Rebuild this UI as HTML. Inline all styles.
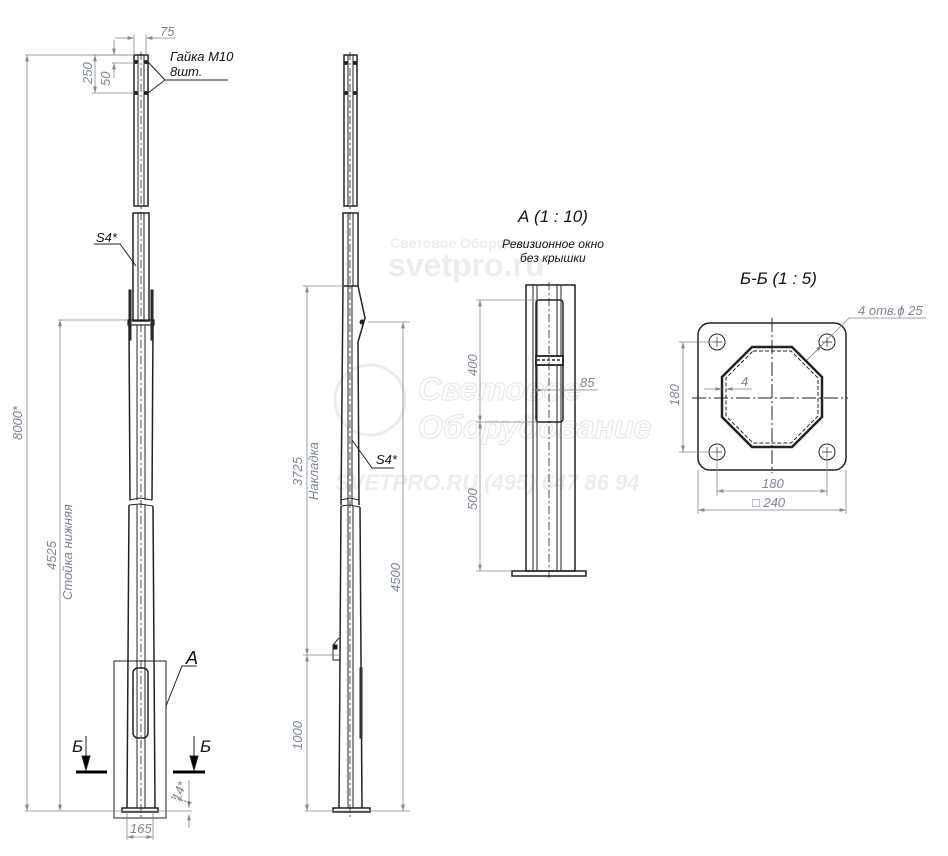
<!DOCTYPE html>
<html><head><meta charset="utf-8"><style>
html,body{margin:0;padding:0;background:#fff;}
svg{display:block;}
text{font-family:"Liberation Sans","DejaVu Sans",sans-serif;font-style:italic;}
.d{fill:#7a8596;font-size:13px;}
.k{fill:#111;}
.wm{fill:#ececec;font-style:normal;font-weight:bold;}
</style></head><body>
<svg width="948" height="856" viewBox="0 0 948 856" xmlns="http://www.w3.org/2000/svg">
<defs>
<marker id="a" viewBox="0 0 10 6" refX="10" refY="3" markerWidth="8" markerHeight="5" orient="auto-start-reverse"><path d="M0,0L10,3L0,6z" fill="#888"/></marker>
</defs>
<!-- watermarks -->
<text x="390" y="248" class="wm" font-size="14">Световое Оборудование</text>
<text x="388" y="276" class="wm" font-size="32">svetpro.ru</text>
<circle cx="370" cy="400" r="35" fill="none" stroke="#ececec" stroke-width="3"/>
<text x="418" y="400" font-size="32" font-weight="bold" fill="none" stroke="#e4e4e4">Световое</text>
<text x="418" y="438" font-size="32" font-weight="bold" fill="none" stroke="#e4e4e4">Оборудование</text>
<text x="335" y="490" font-size="22" font-weight="bold" fill="#ececec">SVETPRO.RU  (495) 647 86 94</text>

<g fill="none" stroke="#222" stroke-width="1">
<!-- LEFT POLE -->
<rect x="134" y="55" width="14" height="151" stroke-width="1.5"/>
<line x1="138" y1="55" x2="138" y2="206"/><line x1="144" y1="55" x2="144" y2="206"/>
<path d="M133,213 L149,213 L149,321 L133,321 Z" stroke-width="1.5"/>
<line x1="138" y1="213" x2="138" y2="321"/><line x1="144" y1="213" x2="144" y2="321"/>
<rect x="129" y="290" width="2" height="50" fill="#333"/><rect x="151" y="290" width="2" height="50" fill="#333"/>
<rect x="128" y="320" width="26" height="5" stroke-width="1.2"/>
<path d="M129,325 L130,500 M153,325 L152,500" stroke-width="1.5"/>
<line x1="137" y1="325" x2="137" y2="500"/><line x1="145" y1="325" x2="145" y2="500"/>
<path d="M129,500 L140,498 L152,500" />
<path d="M129,505 L140,504 L153,506" />
<path d="M129,505 L127,808 M153,506 L155,808" stroke-width="1.5"/>
<line x1="137" y1="505" x2="137" y2="808"/><line x1="145" y1="505" x2="145" y2="808"/>
<rect x="122" y="808" width="36" height="4" stroke-width="1.5"/>
<rect x="133" y="668" width="15" height="70" rx="5" stroke-width="1.5"/>
<rect x="114" y="661" width="52" height="157"/>
<circle cx="136" cy="62" r="1.5" fill="#222"/><circle cx="146" cy="62" r="1.5" fill="#222"/>
<circle cx="136" cy="93" r="1.5" fill="#222"/><circle cx="146" cy="93" r="1.5" fill="#222"/>
<line x1="141" y1="52" x2="141" y2="820" stroke-dasharray="8,3,2,3" stroke-width="0.8"/>
<path d="M148,62 L165,80 L148,93 M165,80 L228,80"/>
<path d="M94,244 L120,244 L136,266"/>
<path d="M166,706 L182,666 L197,666"/>
<line x1="76" y1="772" x2="107" y2="772" stroke-width="3" stroke="#000"/>
<line x1="173" y1="772" x2="205" y2="772" stroke-width="3" stroke="#000"/>
<path d="M86,736 L86,768" /><path d="M82,756 L86,770 L90,756z" fill="#000"/>
<path d="M194,736 L194,768" /><path d="M190,756 L194,770 L198,756z" fill="#000"/>

<!-- MIDDLE POLE -->
<rect x="344" y="55" width="13" height="151" stroke-width="1.5"/>
<line x1="348" y1="55" x2="348" y2="206"/><line x1="353" y1="55" x2="353" y2="206"/>
<rect x="343" y="213" width="15" height="73" stroke-width="1.5"/>
<line x1="348" y1="213" x2="348" y2="286"/><line x1="353" y1="213" x2="353" y2="286"/>
<path d="M343,286 L341,505 M358,286 L365,318 L358,342 L359,505" stroke-width="1.5"/>
<line x1="348" y1="286" x2="348" y2="505"/><line x1="352" y1="286" x2="352" y2="505"/>
<circle cx="362" cy="322" r="2" fill="#222"/>
<path d="M341,500 L350,498 L359,500 M341,506 L350,505 L360,507"/>
<path d="M341,506 L339,808 M360,507 L362,808" stroke-width="1.5"/>
<line x1="348" y1="506" x2="348" y2="808"/><line x1="353" y1="506" x2="353" y2="808"/>
<rect x="360" y="668" width="2" height="70" fill="#444"/>
<path d="M339,638 L333,645 L333,660 L340,660" /><rect x="333" y="645" width="4" height="4" fill="#111"/>
<rect x="333" y="808" width="37" height="4" stroke-width="1.5"/>
<line x1="350" y1="52" x2="350" y2="820" stroke-dasharray="8,3,2,3" stroke-width="0.8"/>
<circle cx="346" cy="63" r="1.5" fill="#222"/><circle cx="355" cy="63" r="1.5" fill="#222"/>
<circle cx="346" cy="93" r="1.5" fill="#222"/><circle cx="355" cy="93" r="1.5" fill="#222"/>
<path d="M352,440 L372,468 L394,468"/>

<!-- DETAIL A -->
<rect x="526" y="285" width="49" height="286" stroke-width="1.5"/>
<line x1="533" y1="285" x2="533" y2="571"/><line x1="537" y1="285" x2="537" y2="571"/>
<line x1="557" y1="285" x2="557" y2="571"/><line x1="561" y1="285" x2="561" y2="571"/>
<rect x="536" y="300" width="27" height="122" rx="3" stroke-width="1.5"/>
<rect x="536" y="356" width="27" height="9" fill="#fff" stroke-width="1.8"/>
<line x1="537" y1="360" x2="562" y2="360" stroke-dasharray="3,2" stroke-width="1.5"/>
<rect x="512" y="571" width="74" height="5" stroke-width="1.5"/>
<line x1="549" y1="282" x2="549" y2="580" stroke-dasharray="8,3,2,3" stroke-width="0.8"/>

<!-- SECTION B-B -->
<rect x="698" y="323" width="148" height="147" rx="12" stroke-width="1.5"/>
<path d="M752,347 L792,347 L822,377 L822,417 L792,447 L752,447 L722,417 L722,377 Z" stroke-width="2.5"/>
<path d="M753,351 L791,351 L818,378 L818,416 L791,443 L753,443 L726,416 L726,378 Z" stroke-width="1" stroke-dasharray="4,2"/>
<circle cx="717" cy="342" r="8"/><circle cx="827" cy="342" r="8"/>
<circle cx="717" cy="452" r="8"/><circle cx="827" cy="452" r="8"/>
<path d="M712,342h10M717,337v10M822,342h10M827,337v10M712,452h10M717,447v10M822,452h10M827,447v10" stroke-width="0.7"/>
<line x1="692" y1="398" x2="848" y2="398" stroke-dasharray="14,3,2,3"/>
<line x1="772" y1="318" x2="772" y2="473" stroke-dasharray="14,3,2,3"/>
</g>

<g fill="none" stroke="#888" stroke-width="0.8">
<line x1="25" y1="55" x2="134" y2="55"/><line x1="25" y1="811" x2="192" y2="811"/>
<line x1="27" y1="55" x2="27" y2="811" marker-start="url(#a)" marker-end="url(#a)"/>
<line x1="58" y1="320" x2="127" y2="320"/>
<line x1="60" y1="320" x2="60" y2="811" marker-start="url(#a)" marker-end="url(#a)"/>
<line x1="92" y1="93" x2="134" y2="93"/><line x1="92" y1="55" x2="134" y2="55"/>
<line x1="95" y1="55" x2="95" y2="93" marker-start="url(#a)" marker-end="url(#a)"/>
<line x1="112" y1="63" x2="134" y2="63"/>
<line x1="114" y1="40" x2="114" y2="55" marker-end="url(#a)"/><line x1="114" y1="63" x2="114" y2="78" marker-start="url(#a)"/>
<line x1="134" y1="35" x2="134" y2="55"/><line x1="146" y1="35" x2="146" y2="55"/>
<line x1="115" y1="38" x2="134" y2="38" marker-end="url(#a)"/><line x1="146" y1="38" x2="175" y2="38" marker-start="url(#a)"/>
<line x1="127" y1="812" x2="127" y2="840"/><line x1="153" y1="812" x2="153" y2="840"/>
<line x1="127" y1="837" x2="153" y2="837" marker-start="url(#a)" marker-end="url(#a)"/>
<line x1="189" y1="780" x2="189" y2="808" marker-end="url(#a)"/><line x1="189" y1="814" x2="189" y2="828" marker-start="url(#a)"/>
<path d="M171,797 L192,803" stroke-dasharray="2,1.5" stroke="#333"/>

<line x1="303" y1="286" x2="344" y2="286"/><line x1="303" y1="655" x2="340" y2="655"/>
<line x1="305" y1="811" x2="410" y2="811"/><line x1="368" y1="322" x2="410" y2="322"/>
<line x1="307" y1="286" x2="307" y2="655" marker-start="url(#a)" marker-end="url(#a)"/>
<line x1="307" y1="655" x2="307" y2="811" marker-start="url(#a)" marker-end="url(#a)"/>
<line x1="403" y1="322" x2="403" y2="811" marker-start="url(#a)" marker-end="url(#a)"/>

<line x1="476" y1="300" x2="536" y2="300"/><line x1="476" y1="422" x2="536" y2="422"/><line x1="476" y1="571" x2="512" y2="571"/>
<line x1="480" y1="300" x2="480" y2="422" marker-start="url(#a)" marker-end="url(#a)"/>
<line x1="480" y1="422" x2="480" y2="571" marker-start="url(#a)" marker-end="url(#a)"/>
<line x1="537" y1="390" x2="598" y2="390"/>
<line x1="533" y1="390" x2="543" y2="390" marker-end="url(#a)"/>

<line x1="679" y1="342" x2="717" y2="342"/><line x1="679" y1="452" x2="717" y2="452"/>
<line x1="683" y1="342" x2="683" y2="452" marker-start="url(#a)" marker-end="url(#a)"/>
<line x1="717" y1="452" x2="717" y2="496"/><line x1="827" y1="452" x2="827" y2="496"/>
<line x1="717" y1="491" x2="827" y2="491" marker-start="url(#a)" marker-end="url(#a)"/>
<line x1="698" y1="470" x2="698" y2="514"/><line x1="846" y1="470" x2="846" y2="514"/>
<line x1="698" y1="510" x2="846" y2="510" marker-start="url(#a)" marker-end="url(#a)"/>
<line x1="704" y1="389" x2="722" y2="389" marker-end="url(#a)"/><line x1="726" y1="389" x2="752" y2="389" marker-start="url(#a)"/>
<path d="M807,360 L849,318 L926,318" /><line x1="822" y1="345" x2="807" y2="360" marker-start="url(#a)"/>
</g>

<text x="160" y="36" class="d">75</text>
<text class="d" transform="translate(92,84) rotate(-90)">250</text>
<text class="d" transform="translate(110,86) rotate(-90)">50</text>
<text x="170" y="61" class="k" font-size="13">Гайка М10</text>
<text x="170" y="76" class="k" font-size="13">8шт.</text>
<text x="96" y="242" class="k" font-size="13">S4*</text>
<text class="d" transform="translate(22,440) rotate(-90)">8000*</text>
<text class="d" transform="translate(56,570) rotate(-90)">4525</text>
<text class="d" transform="translate(72,600) rotate(-90)">Стойка нижняя</text>
<text x="186" y="664" class="k" font-size="18">А</text>
<text x="72" y="752" class="k" font-size="17">Б</text>
<text x="200" y="752" class="k" font-size="17">Б</text>
<text x="130" y="833" class="d">165</text>
<text class="d" font-size="11" transform="translate(180,802) rotate(-70)">14*</text>
<text class="d" transform="translate(302,486) rotate(-90)">3725</text>
<text class="d" transform="translate(318,500) rotate(-90)">Накладка</text>
<text class="d" transform="translate(302,750) rotate(-90)">1000</text>
<text class="d" transform="translate(400,592) rotate(-90)">4500</text>
<text x="376" y="464" class="k" font-size="13">S4*</text>
<text x="518" y="222" class="k" font-size="17">А (1 : 10)</text>
<text x="502" y="248" class="k" font-size="12">Ревизионное окно</text>
<text x="520" y="262" class="k" font-size="12">без крышки</text>
<text class="d" transform="translate(477,376) rotate(-90)">400</text>
<text class="d" transform="translate(477,510) rotate(-90)">500</text>
<text x="580" y="387" class="d">85</text>
<text x="740" y="284" class="k" font-size="17">Б-Б (1 : 5)</text>
<text x="858" y="315" class="d">4 отв.ϕ 25</text>
<text class="d" transform="translate(679,406) rotate(-90)">180</text>
<text x="741" y="386" class="d">4</text>
<text x="762" y="488" class="d">180</text>
<text x="752" y="507" class="d">□ 240</text>
</svg>
</body></html>
